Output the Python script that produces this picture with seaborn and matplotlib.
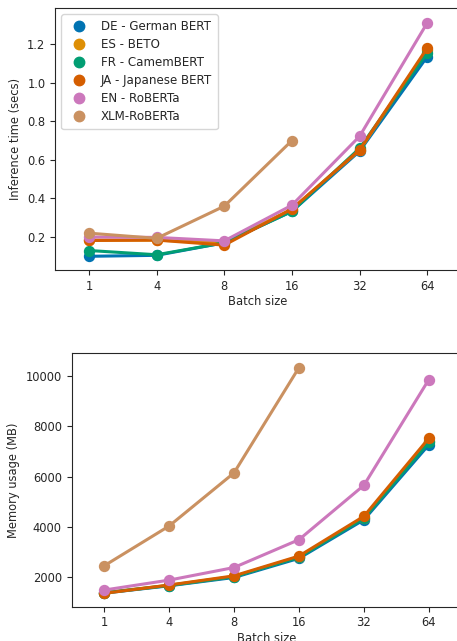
import numpy as np
import pandas as pd
import matplotlib
matplotlib.use("Agg")
import matplotlib.pyplot as plt
from matplotlib.lines import Line2D
import seaborn as sns

batch_sizes = ["1", "4", "8", "16", "32", "64"]
models = ["DE - German BERT", "ES - BETO", "FR - CamemBERT",
          "JA - Japanese BERT", "EN - RoBERTa", "XLM-RoBERTa"]

time_de = [0.10, 0.105, 0.17, 0.333, 0.645, 1.135]
time_es = [0.184, 0.184, 0.17, 0.345, 0.65, 1.17]
time_fr = [0.13, 0.108, 0.17, 0.333, 0.66, 1.155]
time_ja = [0.182, 0.184, 0.158, 0.345, 0.652, 1.18]
time_en = [0.20, 0.198, 0.18, 0.365, 0.722, 1.31]
time_xlm = [0.22, 0.193, 0.36, 0.70, np.nan, np.nan]

mem_de = [1380, 1670, 2000, 2760, 4290, 7270]
mem_es = [1400, 1690, 2040, 2820, 4370, 7420]
mem_fr = [1390, 1680, 2030, 2800, 4350, 7360]
mem_ja = [1370, 1700, 2065, 2850, 4430, 7530]
mem_en = [1500, 1895, 2395, 3500, 5660, 9860]
mem_xlm = [2460, 4040, 6150, 10330, np.nan, np.nan]

times = [time_de, time_es, time_fr, time_ja, time_en, time_xlm]
mems = [mem_de, mem_es, mem_fr, mem_ja, mem_en, mem_xlm]

rows = []
for m, tv, mv in zip(models, times, mems):
    for b, t, mm in zip(batch_sizes, tv, mv):
        rows.append({"Model": m, "Batch size": b, "time": t, "mem": mm})
df = pd.DataFrame(rows)

sns.set_style("ticks")
plt.rcParams["font.family"] = ["DejaVu Sans"]
FS = 8.3
plt.rcParams["font.size"] = FS

palette = sns.color_palette("colorblind", 6)

fig = plt.figure(figsize=(4.57, 6.41), dpi=100)
ax1 = fig.add_axes([0.1208, 0.5788, 0.888, 0.408])
ax2 = fig.add_axes([0.1565, 0.0535, 0.853, 0.3953])

kw = dict(x="Batch size", hue="Model", order=batch_sizes, hue_order=models,
          palette=palette, markers="o", markersize=6.5, linewidth=2.2,
          legend=False)

sns.pointplot(data=df.dropna(subset=["time"]), y="time", ax=ax1, **kw)
sns.pointplot(data=df.dropna(subset=["mem"]), y="mem", ax=ax2, **kw)

ax1.set_ylim(0.029, 1.385)
ax1.set_yticks([0.2, 0.4, 0.6, 0.8, 1.0, 1.2])
ax1.set_ylabel("Inference time (secs)", fontsize=FS)
ax1.set_xlabel("Batch size", fontsize=FS, labelpad=1.5)

ax2.set_ylim(840, 10900)
ax2.set_yticks([2000, 4000, 6000, 8000, 10000])
ax2.set_ylabel("Memory usage (MB)", fontsize=FS)
ax2.set_xlabel("Batch size", fontsize=FS, labelpad=1.5)

for ax in (ax1, ax2):
    ax.set_xlim(-0.5, 5.5)
    ax.tick_params(labelsize=FS)

handles = [Line2D([], [], linestyle="none", marker="o", markersize=7.5,
                  color=c) for c in palette]
ax1.legend(handles, models, loc="upper left", fontsize=8.6,
           handletextpad=0.8, borderpad=0.5, labelspacing=0.42)

fig.savefig("out.png", dpi=100)
